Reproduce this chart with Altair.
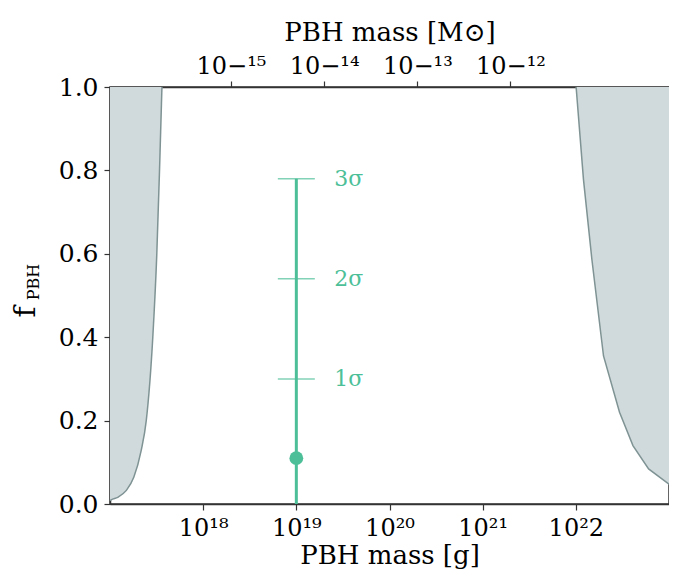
import altair as alt
import pandas as pd

FONT = "DejaVu Serif"
TEAL = "#4dbf98"
FILL = "#d0d9db"
EDGE = "#7f9394"
MSUN = 1.989e33

# left excluded region boundary (mass [g], f_PBH)
left_mass = [1.0e17, 1.03e17, 1.21e17, 1.49e17, 1.80e17, 2.16e17, 2.45e17, 2.88e17, 3.18e17, 3.40e17, 3.61e17]
left_f = [0.008, 0.010, 0.016, 0.032, 0.064, 0.128, 0.200, 0.400, 0.600, 0.800, 1.0]

# right excluded region boundary
right_mass = [1.007e22, 1.208e22, 1.486e22, 1.982e22, 2.944e22, 4.102e22, 6.04e22, 9.91e22, 1.0e23]
right_f = [1.0, 0.778, 0.587, 0.355, 0.220, 0.140, 0.084, 0.048, 0.047]

# measurement
point_mass = [1e19]
point_f = [0.11]
sigma_levels = [0.30, 0.54, 0.78]
sigma_labels = ["1σ", "2σ", "3σ"]

bottom_ticks = [1e18, 1e19, 1e20, 1e21, 1e22]
top_ticks = [1e-15, 1e-14, 1e-13, 1e-12]

left_df = pd.DataFrame({"m": left_mass, "f": left_f, "top": 1.0})
right_df = pd.DataFrame({"m": right_mass, "f": right_f, "top": 1.0})
pt_df = pd.DataFrame({"m": point_mass, "f": point_f, "f0": 0.0, "fmax": max(sigma_levels)})
sig_df = pd.DataFrame({"m": point_mass * 3, "f": sigma_levels, "lab": sigma_labels})

sup = "replace(replace(replace(replace(replace(replace(replace(replace(replace(replace(replace(format(log(datum.value)/LN10,'.0f'),'-','⁻'),'0','⁰'),'1','¹'),'2','²'),'3','³'),'4','⁴'),'5','⁵'),'6','⁶'),'7','⁷'),'8','⁸'),'9','⁹')"
label_expr = "'10' + " + sup

AX = dict(labelFont=FONT, titleFont=FONT, labelFontSize=24, titleFontSize=26, titleFontWeight="normal",
          labelColor="black", titleColor="black", domainColor="#333333", tickColor="#333333",
          domainWidth=1.5, tickWidth=1.2, tickSize=6, grid=False)

xscale = alt.Scale(type="log", domain=[1e17, 1e23], nice=False)
yscale = alt.Scale(domain=[0, 1], nice=False)
xenc = alt.X("m:Q", scale=xscale,
             axis=alt.Axis(title="PBH mass [g]", values=bottom_ticks, labelExpr=label_expr,
                           orient="bottom", labelPadding=6, titlePadding=2, **AX))
yenc = alt.Y("f:Q", scale=yscale,
             axis=alt.Axis(title=None, values=[0, 0.2, 0.4, 0.6, 0.8, 1.0], format=".1f",
                           labelPadding=6, labelFontSize=25, **{k: v for k, v in AX.items() if k != "labelFontSize"}))

left_area = alt.Chart(left_df).mark_area(color=FILL, opacity=1, interpolate="monotone").encode(x=xenc, y=yenc, y2="top:Q")
left_line = alt.Chart(left_df).mark_line(color=EDGE, strokeWidth=1.5, interpolate="monotone").encode(x="m:Q", y="f:Q")
right_area = alt.Chart(right_df).mark_area(color=FILL, opacity=1).encode(x="m:Q", y="f:Q", y2="top:Q")
right_line = alt.Chart(right_df).mark_line(color=EDGE, strokeWidth=1.5).encode(x="m:Q", y="f:Q")

bar = alt.Chart(pt_df).mark_rule(color=TEAL, strokeWidth=3).encode(x="m:Q", y="f0:Q", y2="fmax:Q")
dot = alt.Chart(pt_df).mark_point(color=TEAL, filled=True, opacity=1, size=190, shape="circle").encode(x="m:Q", y="f:Q")
ticks = alt.Chart(sig_df).mark_tick(color=TEAL, orient="horizontal", size=37, thickness=1.5).encode(x="m:Q", y="f:Q")
labs = alt.Chart(sig_df).mark_text(color=TEAL, align="left", baseline="middle", dx=38, font=FONT, fontSize=22).encode(
    x="m:Q", y="f:Q", text="lab:N")

ytitle_f = alt.Chart(pd.DataFrame({"t": ["f"]})).mark_text(
    font=FONT, fontSize=30, angle=270, align="center", baseline="middle", color="black"
).encode(x=alt.value(-84), y=alt.value(225), text="t:N")
ytitle_sub = alt.Chart(pd.DataFrame({"t": ["PBH"]})).mark_text(
    font=FONT, fontSize=16, angle=270, align="center", baseline="middle", color="black"
).encode(x=alt.value(-76), y=alt.value(195), text="t:N")

main = alt.layer(left_area, left_line, right_area, right_line, bar, ticks, labs, dot, ytitle_f, ytitle_sub)

top_df = pd.DataFrame({"ms": [1e17 / MSUN, 1e23 / MSUN]})
top = alt.Chart(top_df).mark_point(opacity=0).encode(
    x=alt.X("ms:Q", scale=alt.Scale(type="log", domain=[1e17 / MSUN, 1e23 / MSUN], nice=False),
            axis=alt.Axis(title="PBH mass [M⊙]", values=top_ticks, labelExpr=label_expr, orient="top",
                          labelPadding=3, titlePadding=9, **AX)),
)

chart = alt.layer(main, top).resolve_scale(x="independent").properties(
    width=559, height=417, background="white",
    autosize=alt.AutoSizeParams(type="none"),
    padding={"left": 102, "top": 79, "right": 0, "bottom": 72},
).configure_view(stroke="#333333", strokeWidth=1.5)

chart.save("out.html", embed_options={"renderer": "svg", "actions": False})
